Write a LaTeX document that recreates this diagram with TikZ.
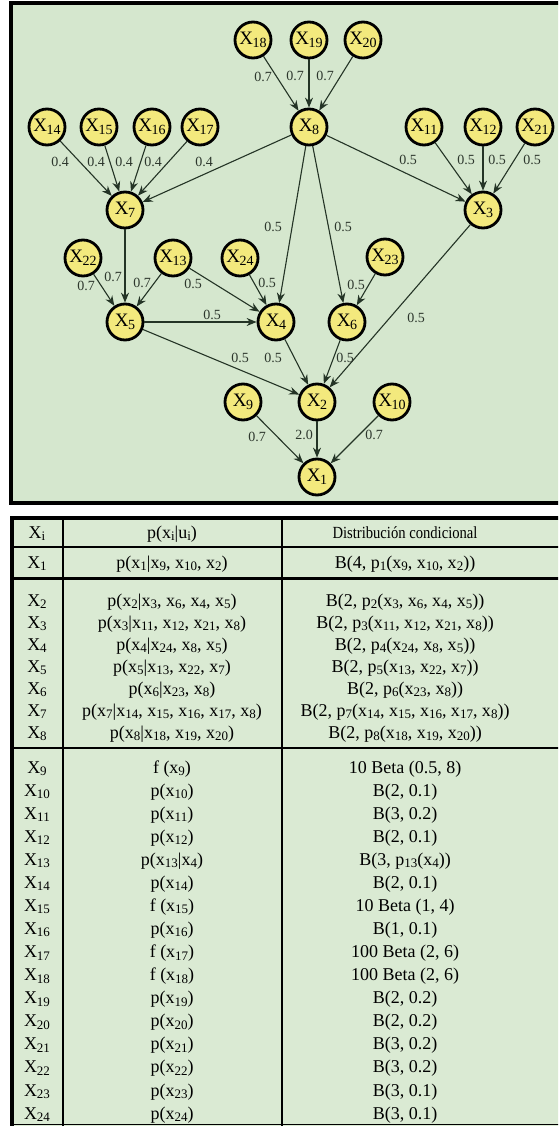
\documentclass[tikz,border=0pt]{standalone}
\usepackage{fontspec}
\setmainfont{Liberation Serif}
\usetikzlibrary{arrows.meta}
\definecolor{bgg}{RGB}{213,231,206}
\definecolor{tbg}{RGB}{218,234,211}
\definecolor{nyel}{RGB}{243,233,125}
\definecolor{edg}{RGB}{36,52,38}
\definecolor{labc}{RGB}{45,55,45}
\newcommand\gx[1]{X\kern-0.5pt\raisebox{-0.3ex}{\fontsize{14}{14}\selectfont #1}}
\newcommand\ts[1]{\raisebox{-0.3ex}{\fontsize{13}{13}\selectfont #1}}
\newcommand\trow[5]{%
 \node[cell] (c#2a) at (37,#1) {#3};
 \node[cell] (c#2b) at (172,#1) {#4};
 \node[cell] (c#2c) at (405,#1) {#5};}
\tikzset{
 gnode/.style={circle, draw=black, line width=2.8pt, fill=nyel, minimum size=36pt, inner sep=0pt, font=\fontsize{19}{19}\selectfont},
 lab/.style={font=\fontsize{14}{14}\selectfont, text=labc, inner sep=0pt},
 arr/.style={draw=edg, line width=1.1pt, -{Stealth[length=10pt,width=8pt]}},
 cell/.style={font=\fontsize{18}{18}\selectfont, anchor=base, inner sep=0pt},
}
\begin{document}
\begin{tikzpicture}[x=1pt,y=-1pt]
\useasboundingbox (0,0) rectangle (558,1126);
\clip (0,0) rectangle (558,1126);
% graph panel
\draw[line width=4pt, fill=bgg] (11,3) rectangle (575,503);
% nodes
\node[gnode] (x18) at (253,40) {\gx{18}};
\node[gnode] (x19) at (309,40) {\gx{19}};
\node[gnode] (x20) at (363,40) {\gx{20}};
\node[gnode] (x14) at (47,127) {\gx{14}};
\node[gnode] (x15) at (99,127) {\gx{15}};
\node[gnode] (x16) at (152,127) {\gx{16}};
\node[gnode] (x17) at (200,127) {\gx{17}};
\node[gnode] (x8) at (309,127) {\gx{8}};
\node[gnode] (x11) at (424,127) {\gx{11}};
\node[gnode] (x12) at (483,127) {\gx{12}};
\node[gnode] (x21) at (535,127) {\gx{21}};
\node[gnode] (x7) at (125,210) {\gx{7}};
\node[gnode] (x3) at (483,210) {\gx{3}};
\node[gnode] (x22) at (83,258) {\gx{22}};
\node[gnode] (x13) at (173,258) {\gx{13}};
\node[gnode] (x24) at (240,258) {\gx{24}};
\node[gnode] (x23) at (385,257) {\gx{23}};
\node[gnode] (x5) at (125,322) {\gx{5}};
\node[gnode] (x4) at (276,322) {\gx{4}};
\node[gnode] (x6) at (347,322) {\gx{6}};
\node[gnode] (x9) at (243,402) {\gx{9}};
\node[gnode] (x2) at (317,402) {\gx{2}};
\node[gnode] (x10) at (392,402) {\gx{10}};
\node[gnode] (x1) at (317,477) {\gx{1}};
% edges
\draw[arr] (x18) -- (x8);
\draw[arr] (x19) -- (x8);
\draw[arr] (x20) -- (x8);
\draw[arr] (x14) -- (x7);
\draw[arr] (x15) -- (x7);
\draw[arr] (x16) -- (x7);
\draw[arr] (x17) -- (x7);
\draw[arr] (x8) -- (x7);
\draw[arr] (x8) -- (x3);
\draw[arr] (x11) -- (x3);
\draw[arr] (x12) -- (x3);
\draw[arr] (x21) -- (x3);
\draw[arr] (x8) -- (x4);
\draw[arr] (x8) -- (x6);
\draw[arr] (x7) -- (x5);
\draw[arr] (x22) -- (x5);
\draw[arr] (x13) -- (x5);
\draw[arr] (x13) -- (x4);
\draw[arr] (x24) -- (x4);
\draw[arr] (x5) -- (x4);
\draw[arr] (x23) -- (x6);
\draw[arr] (x5) -- (x2);
\draw[arr] (x4) -- (x2);
\draw[arr] (x6) -- (x2);
\draw[arr] (x3) -- (x2);
\draw[arr] (x9) -- (x1);
\draw[arr] (x2) -- (x1);
\draw[arr] (x10) -- (x1);
% labels
\node[lab] (l1) at (263,77) {0.7};
\node[lab] (l2) at (295,76) {0.7};
\node[lab] (l3) at (325,76) {0.7};
\node[lab] (l4) at (60,162) {0.4};
\node[lab] (l5) at (96,162) {0.4};
\node[lab] (l6) at (124,162) {0.4};
\node[lab] (l7) at (153,162) {0.4};
\node[lab] (l8) at (204,162) {0.4};
\node[lab] (l9) at (408,160) {0.5};
\node[lab] (l10) at (466,160) {0.5};
\node[lab] (l11) at (497,160) {0.5};
\node[lab] (l12) at (532,160) {0.5};
\node[lab] (l13) at (273,227) {0.5};
\node[lab] (l14) at (343,227) {0.5};
\node[lab] (l15) at (86,286) {0.7};
\node[lab] (l16) at (113,277) {0.7};
\node[lab] (l17) at (142,283) {0.7};
\node[lab] (l18) at (193,284) {0.5};
\node[lab] (l19) at (267,283) {0.5};
\node[lab] (l20) at (212,315) {0.5};
\node[lab] (l21) at (240,358) {0.5};
\node[lab] (l22) at (273,358) {0.5};
\node[lab] (l23) at (356,285) {0.5};
\node[lab] (l24) at (416,318) {0.5};
\node[lab] (l25) at (345,358) {0.5};
\node[lab] (l26) at (257,437) {0.7};
\node[lab] (l27) at (304,435) {2.0};
\node[lab] (l28) at (374,435) {0.7};
% table
\fill[tbg] (12,518) rectangle (575,1126);
\draw[line width=4pt] (10,518) -- (575,518);
\draw[line width=2.5pt] (12,547) -- (575,547);
\draw[line width=3pt] (12,578) -- (575,578);
\draw[line width=2.5pt] (12,748) -- (575,748);
\draw[line width=1.5pt] (12,1124.5) -- (575,1124.5);
\draw[line width=4pt] (12,516) -- (12,1126);
\draw[line width=2.5pt] (63,518) -- (63,1126);
\draw[line width=1.2pt] (282,518) -- (282,1126);
\trow{538}{h}{X\ts{i}}{p(x\ts{i}|u\ts{i})}{\scalebox{0.86}[1]{\fontsize{17}{17}\selectfont Distribución condicional}}
\trow{568}{1}{X\ts{1}}{p(x\ts{1}|x\ts{9}, x\ts{10}, x\ts{2})}{B(4, p\ts{1}(x\ts{9}, x\ts{10}, x\ts{2}))}
\trow{606}{2}{X\ts{2}}{p(x\ts{2}|x\ts{3}, x\ts{6}, x\ts{4}, x\ts{5})}{B(2, p\ts{2}(x\ts{3}, x\ts{6}, x\ts{4}, x\ts{5}))}
\trow{628}{3}{X\ts{3}}{p(x\ts{3}|x\ts{11}, x\ts{12}, x\ts{21}, x\ts{8})}{B(2, p\ts{3}(x\ts{11}, x\ts{12}, x\ts{21}, x\ts{8}))}
\trow{650}{4}{X\ts{4}}{p(x\ts{4}|x\ts{24}, x\ts{8}, x\ts{5})}{B(2, p\ts{4}(x\ts{24}, x\ts{8}, x\ts{5}))}
\trow{672}{5}{X\ts{5}}{p(x\ts{5}|x\ts{13}, x\ts{22}, x\ts{7})}{B(2, p\ts{5}(x\ts{13}, x\ts{22}, x\ts{7}))}
\trow{694}{6}{X\ts{6}}{p(x\ts{6}|x\ts{23}, x\ts{8})}{B(2, p\ts{6}(x\ts{23}, x\ts{8}))}
\trow{716}{7}{X\ts{7}}{p(x\ts{7}|x\ts{14}, x\ts{15}, x\ts{16}, x\ts{17}, x\ts{8})}{B(2, p\ts{7}(x\ts{14}, x\ts{15}, x\ts{16}, x\ts{17}, x\ts{8}))}
\trow{738}{8}{X\ts{8}}{p(x\ts{8}|x\ts{18}, x\ts{19}, x\ts{20})}{B(2, p\ts{8}(x\ts{18}, x\ts{19}, x\ts{20}))}
\trow{773}{9}{X\ts{9}}{f (x\ts{9})}{10 Beta (0.5, 8)}
\trow{796.1}{10}{X\ts{10}}{p(x\ts{10})}{B(2, 0.1)}
\trow{819.1}{11}{X\ts{11}}{p(x\ts{11})}{B(3, 0.2)}
\trow{842.2}{12}{X\ts{12}}{p(x\ts{12})}{B(2, 0.1)}
\trow{865.3}{13}{X\ts{13}}{p(x\ts{13}|x\ts{4})}{B(3, p\ts{13}(x\ts{4}))}
\trow{888.4}{14}{X\ts{14}}{p(x\ts{14})}{B(2, 0.1)}
\trow{911.4}{15}{X\ts{15}}{f (x\ts{15})}{10 Beta (1, 4)}
\trow{934.5}{16}{X\ts{16}}{p(x\ts{16})}{B(1, 0.1)}
\trow{957.6}{17}{X\ts{17}}{f (x\ts{17})}{100 Beta (2, 6)}
\trow{980.6}{18}{X\ts{18}}{f (x\ts{18})}{100 Beta (2, 6)}
\trow{1003.7}{19}{X\ts{19}}{p(x\ts{19})}{B(2, 0.2)}
\trow{1026.8}{20}{X\ts{20}}{p(x\ts{20})}{B(2, 0.2)}
\trow{1049.8}{21}{X\ts{21}}{p(x\ts{21})}{B(3, 0.2)}
\trow{1072.9}{22}{X\ts{22}}{p(x\ts{22})}{B(3, 0.2)}
\trow{1096}{23}{X\ts{23}}{p(x\ts{23})}{B(3, 0.1)}
\trow{1119}{24}{X\ts{24}}{p(x\ts{24})}{B(3, 0.1)}
\end{tikzpicture}
\end{document}
